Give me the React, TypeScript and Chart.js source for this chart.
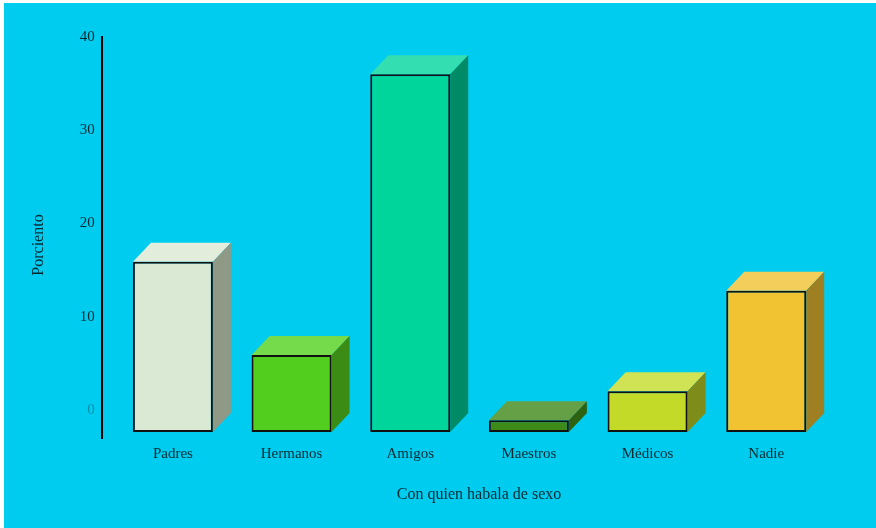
import { useEffect, useRef } from 'react';
import { Chart, registerables } from 'chart.js';

Chart.register(...registerables);

// ---- data ----
const categories = ['Padres', 'Hermanos', 'Amigos', 'Maestros', 'Médicos', 'Nadie'];
const values = [15.9, 5.9, 36, -1.1, 2.0, 12.8];
const barBase = -2.35;
const yTicks = [0, 10, 20, 30, 40];
const xTitle = 'Con quien habala de sexo';
const yTitle = 'Porciento';

// ---- styles ----
const frontColors = ['#D9E9D3', '#52CF1E', '#00D59C', '#3E8A18', '#C4DA28', '#F1C232'];
const topColors = ['#E3EDDC', '#76DB4B', '#33DEB0', '#65A046', '#D0E354', '#F3CE5B'];
const sideColors = ['#8E9A86', '#3A8C14', '#008A66', '#2D6210', '#7E8C1A', '#9E8022'];
const DX = 18;
const DY = 19;
const FONT = '"Liberation Serif", "Times New Roman", serif';
const TEXT = 'rgba(0,0,0,0.8)';

const depthPlugin = {
  id: 'depth3d',
  beforeDatasetsDraw(chart: any) {
    const ctx = chart.ctx;
    const meta = chart.getDatasetMeta(0);
    meta.data.forEach((bar: any, i: number) => {
      const { x, y, base, width } = bar.getProps(['x', 'y', 'base', 'width'], true);
      const l = x - width / 2;
      const r = x + width / 2;
      const top = Math.min(y, base);
      const bot = Math.max(y, base);
      ctx.save();
      ctx.fillStyle = topColors[i];
      ctx.beginPath();
      ctx.moveTo(l, top);
      ctx.lineTo(l + DX, top - DY);
      ctx.lineTo(r + DX, top - DY);
      ctx.lineTo(r, top);
      ctx.closePath();
      ctx.fill();
      ctx.fillStyle = sideColors[i];
      ctx.beginPath();
      ctx.moveTo(r, top);
      ctx.lineTo(r + DX, top - DY);
      ctx.lineTo(r + DX, bot - DY);
      ctx.lineTo(r, bot);
      ctx.closePath();
      ctx.fill();
      ctx.restore();
    });
  },
  afterDraw(chart: any) {
    const ctx = chart.ctx;
    const ys = chart.scales.y;
    const cy = (ys.top + ys.bottom) / 2 + 7.5;
    ctx.save();
    ctx.translate(35, cy);
    ctx.rotate(-Math.PI / 2);
    ctx.font = `16px ${FONT}`;
    ctx.fillStyle = TEXT;
    ctx.textAlign = 'center';
    ctx.textBaseline = 'middle';
    ctx.fillText(yTitle, 0, 0);
    ctx.restore();
  },
};

export default function App() {
  const ref = useRef<HTMLCanvasElement | null>(null);

  useEffect(() => {
    if (!ref.current) return;
    const chart = new Chart(ref.current, {
      type: 'bar',
      data: {
        datasets: [
          {
            data: categories.map((_, i) => ({ x: i, y: [barBase, values[i]] })) as any,
            backgroundColor: frontColors,
            borderColor: '#111',
            borderWidth: 2,
            borderSkipped: false,
            barPercentage: 0.674,
            categoryPercentage: 1,
          },
        ],
      },
      options: {
        animation: false,
        responsive: false,
        layout: { padding: { left: 0, right: 19.6, top: 34, bottom: 19.4 } },
        plugins: {
          legend: { display: false },
          tooltip: { enabled: false },
        },
        scales: {
          x: {
            type: 'linear',
            min: -0.6,
            max: 5.76,
            offset: false,
            grid: { display: false, drawTicks: false },
            border: { display: false },
            afterBuildTicks: (s: any) => {
              s.ticks = categories.map((_, i) => ({ value: i }));
            },
            ticks: {
              autoSkip: false,
              maxRotation: 0,
              padding: 7,
              color: TEXT,
              font: { family: FONT, size: 15 },
              callback: (v: any) => categories[v as number] ?? '',
            },
            title: {
              display: true,
              text: xTitle,
              color: TEXT,
              font: { family: FONT, size: 16 },
              padding: { top: 15.4, bottom: 4 },
            },
          },
          y: {
            type: 'linear',
            min: -3,
            max: 40,
            grid: { display: false, drawTicks: false },
            border: { display: true, color: '#000', width: 2 },
            afterBuildTicks: (s: any) => {
              s.ticks = yTicks.map((v) => ({ value: v }));
            },
            afterFit: (s: any) => {
              s.width = 97.7;
            },
            ticks: {
              padding: 7,
              color: (c: any) => (c.tick && c.tick.value === 0 ? 'rgba(0,0,0,0.3)' : TEXT),
              font: { family: FONT, size: 15 },
            },
          },
        },
      },
      plugins: [depthPlugin],
    });
    return () => chart.destroy();
  }, []);

  return (
    <div
      style={{
        position: 'fixed',
        left: 4,
        top: 3,
        width: 872,
        height: 525,
        background: '#00CCF0',
      }}
    >
      <canvas ref={ref} width={872} height={525} style={{ display: 'block' }} />
    </div>
  );
}
